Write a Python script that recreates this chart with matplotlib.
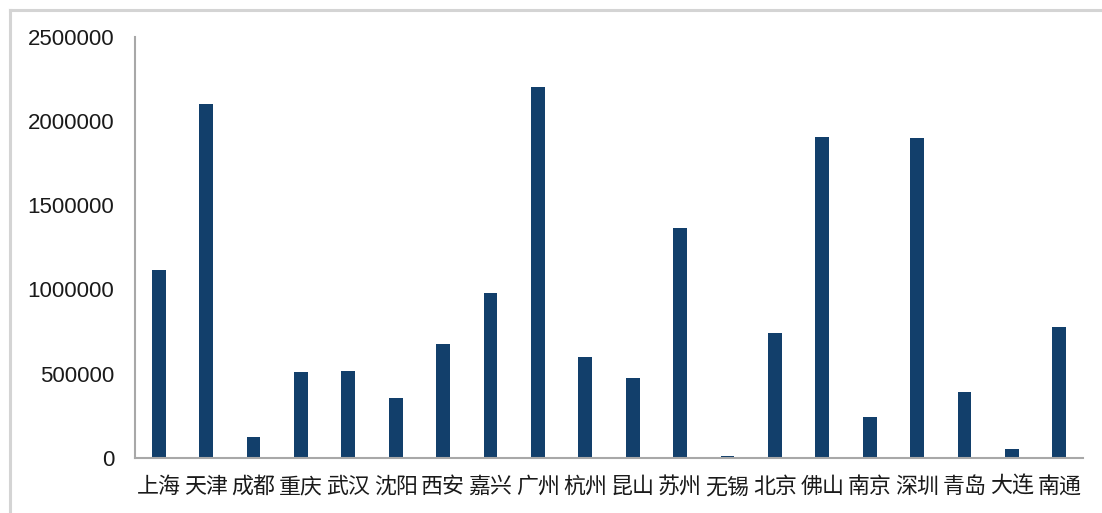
import matplotlib
matplotlib.use('Agg')
import matplotlib.pyplot as plt
from matplotlib.lines import Line2D
from matplotlib.ticker import MultipleLocator

plt.rcParams['font.family'] = ['Noto Sans CJK SC', 'DejaVu Sans']

cities = ['上海', '天津', '成都', '重庆', '武汉', '沈阳', '西安', '嘉兴', '广州', '杭州',
          '昆山', '苏州', '无锡', '北京', '佛山', '南京', '深圳', '青岛', '大连', '南通']
values = [1115000, 2098000, 123000, 510000, 518000, 354000, 674000, 977000, 2202000, 601000,
          473000, 1366000, 9000, 743000, 1906000, 241000, 1896000, 393000, 52000, 779000]

bar_color = '#123f6b'
axis_gray = '#a8a8a8'

fig = plt.figure(figsize=(11.02, 5.13), dpi=100)
ax = fig.add_axes([0.1225, 0.1072, 0.8603, 0.8216])

x = range(len(cities))
ax.bar(x, values, width=0.29, color=bar_color, zorder=2)

ax.set_xlim(-0.5, len(cities) - 0.5)
ax.set_ylim(0, 2500000)
ax.yaxis.set_major_locator(MultipleLocator(500000))
ax.set_yticklabels([f'{int(v)}' for v in ax.get_yticks()],
                   family='Liberation Sans', fontsize=16, color='#1a1a1a')
ax.set_xticks(list(x))
ax.set_xticklabels(cities, fontsize=15.8, color='#1a1a1a')
ax.tick_params(axis='y', length=0, pad=15)
ax.tick_params(axis='x', length=0, pad=13)

for side in ('top', 'right'):
    ax.spines[side].set_visible(False)
for side in ('left', 'bottom'):
    ax.spines[side].set_color(axis_gray)
    ax.spines[side].set_linewidth(1.5)

# light frame around the figure edge
fig.add_artist(Line2D([10 / 1102, 1], [1 - 10 / 513, 1 - 10 / 513],
                      color='#d4d4d4', lw=2.2, transform=fig.transFigure))
fig.add_artist(Line2D([10 / 1102, 10 / 1102], [0, 1 - 10 / 513],
                      color='#d4d4d4', lw=2.2, transform=fig.transFigure))

fig.savefig('out.png', dpi=100)
